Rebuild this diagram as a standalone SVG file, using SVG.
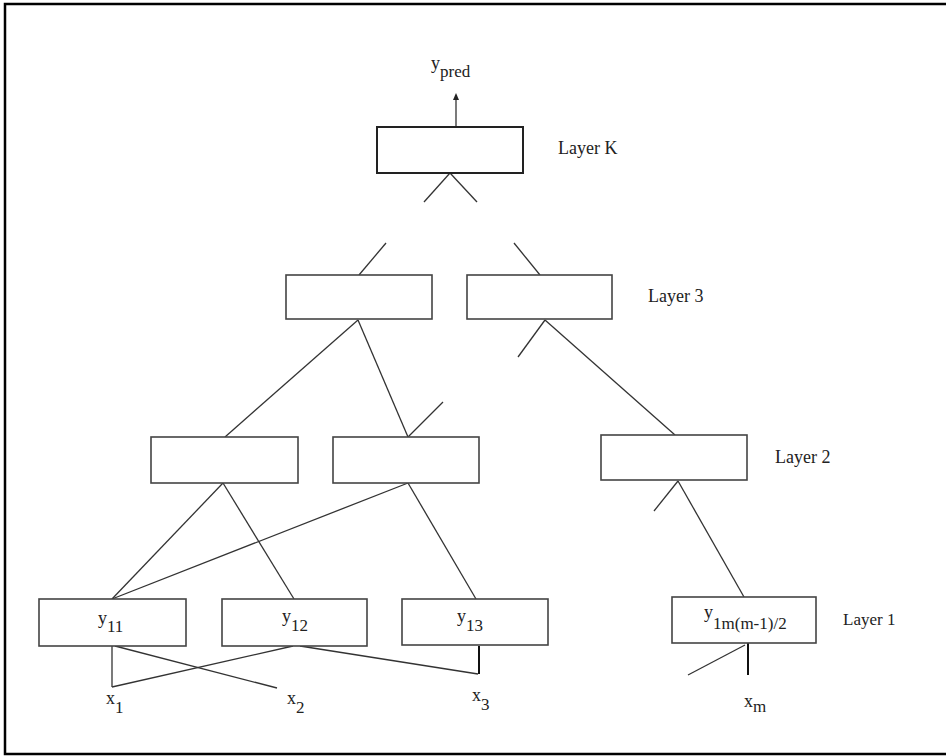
<svg xmlns="http://www.w3.org/2000/svg" width="947" height="756" viewBox="0 0 947 756">
<defs>
<marker id="arr" markerWidth="8" markerHeight="8" refX="4" refY="4" orient="auto" markerUnits="userSpaceOnUse">
<path d="M0,1 L7,4 L0,7 Z" fill="#222"/>
</marker>
<style>
.box{fill:#fff;stroke:#444;stroke-width:1.6}
.boxk{fill:#fff;stroke:#222;stroke-width:2}
.ln{stroke:#333;stroke-width:1.3;fill:none}
.lnb{stroke:#111;stroke-width:2;fill:none}
.t{font-family:"Liberation Serif",serif;font-size:18px;fill:#222}
.lab{font-family:"Liberation Serif",serif;font-size:18px;fill:#222}
.sub{font-size:17px}
</style>
</defs>
<rect x="0" y="0" width="947" height="756" fill="#fff"/>
<path d="M946,4 L5,4 L5,754 L946,754" fill="none" stroke="#000" stroke-width="2.5"/>

<g id="connectors">
<line class="ln" x1="456" y1="126" x2="456" y2="96" marker-end="url(#arr)"/>
<line class="ln" x1="450" y1="173" x2="424" y2="202"/>
<line class="ln" x1="450" y1="173" x2="477" y2="202"/>
<line class="ln" x1="359" y1="275" x2="386" y2="243"/>
<line class="ln" x1="540" y1="275" x2="514" y2="243"/>
<line class="ln" x1="358" y1="320" x2="225" y2="437"/>
<line class="ln" x1="358" y1="320" x2="408" y2="437"/>
<line class="ln" x1="408" y1="437" x2="443" y2="402"/>
<line class="ln" x1="545" y1="320" x2="518" y2="357"/>
<line class="ln" x1="545" y1="320" x2="675" y2="435"/>
<line class="ln" x1="678" y1="481" x2="654" y2="511"/>
<line class="ln" x1="678" y1="481" x2="744" y2="597"/>
<line class="ln" x1="223" y1="483" x2="112" y2="599"/>
<line class="ln" x1="223" y1="483" x2="294" y2="599"/>
<line class="ln" x1="408" y1="483" x2="112" y2="599"/>
<line class="ln" x1="408" y1="483" x2="476" y2="599"/>
<line class="ln" x1="112" y1="646" x2="112" y2="687"/>
<line class="ln" x1="112" y1="687" x2="293" y2="646"/>
<line class="ln" x1="115" y1="646" x2="277" y2="688"/>
<line class="ln" x1="300" y1="646" x2="478" y2="674"/>
<line class="lnb" x1="479" y1="646" x2="479" y2="674"/>
<line class="lnb" x1="748" y1="643" x2="748" y2="675"/>
<line class="ln" x1="745" y1="645" x2="688" y2="675"/>
</g>

<g id="layerK">
<rect class="boxk" x="377" y="127" width="146" height="46"/>
</g>
<g id="l3a"><rect class="box" x="286" y="275" width="146" height="44"/></g>
<g id="l3b"><rect class="box" x="467" y="275" width="145" height="44"/></g>
<g id="l2a"><rect class="box" x="151" y="437" width="147" height="46"/></g>
<g id="l2b"><rect class="box" x="333" y="437" width="146" height="46"/></g>
<g id="l2c"><rect class="box" x="601" y="435" width="146" height="45"/></g>
<g id="y11">
<rect class="box" x="39" y="599" width="147" height="47"/>
<text class="t" x="98" y="624">y<tspan class="sub" dy="8">11</tspan></text>
</g>
<g id="y12">
<rect class="box" x="222" y="599" width="145" height="47"/>
<text class="t" x="282" y="622">y<tspan class="sub" dy="9">12</tspan></text>
</g>
<g id="y13">
<rect class="box" x="402" y="599" width="146" height="46"/>
<text class="t" x="457" y="622">y<tspan class="sub" dy="9">13</tspan></text>
</g>
<g id="y1m">
<rect class="box" x="672" y="597" width="144" height="46"/>
<text class="t" x="704" y="618">y<tspan class="sub" dy="11">1m(m-1)/2</tspan></text>
</g>

<g id="labels">
<text class="t" x="431" y="69">y<tspan class="sub" dy="8">pred</tspan></text>
<text class="lab" x="558" y="154">Layer K</text>
<text class="lab" x="648" y="302">Layer 3</text>
<text class="lab" x="775" y="463">Layer 2</text>
<text class="lab" x="843" y="625" style="font-size:17px">Layer 1</text>
<text class="t" x="106" y="704">x<tspan class="sub" dy="9">1</tspan></text>
<text class="t" x="287" y="704">x<tspan class="sub" dy="9">2</tspan></text>
<text class="t" x="472" y="701">x<tspan class="sub" dy="9">3</tspan></text>
<text class="t" x="744" y="707">x<tspan class="sub" dy="5">m</tspan></text>
</g>
</svg>
